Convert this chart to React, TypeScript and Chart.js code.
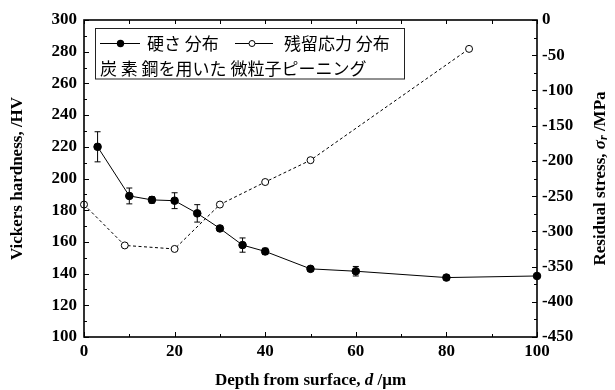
import React, { useEffect, useRef } from "react";
import { Chart, registerables } from "chart.js";
Chart.register(...registerables);

// ---- data ----
const depthHardness = [3, 10, 15, 20, 25, 30, 35, 40, 50, 60, 80, 100];
const hardness = [220, 189, 186.5, 186, 178, 168.5, 158, 154, 143, 141.5, 137.5, 138.5];
const hardnessErr = [9.5, 5, 2, 5, 5.5, 1.5, 4.5, 2, 1.5, 3, 1.5, 1];
const depthStress = [0, 9, 20, 30, 40, 50, 85];
const stress = [-262, -320, -325, -262, -230, -199, -41];

const legendHardness = "硬さ 分布";
const legendStress = "残留応力 分布";
const legendNote = "炭 素 鋼を用いた 微粒子ピーニング";

const xTitleParts = ["Depth from surface, ", "d", " /μm"];
const yTitle = "Vickers hardness, /HV";
const y2TitleParts = ["Residual stress, ", "σ", "r", " /MPa"];

const SERIF = '"Liberation Serif", "Times New Roman", serif';
const CJK = '"Noto Sans CJK JP", sans-serif';

type Part = { text: string; font: string; dy?: number };

function drawRich(ctx: CanvasRenderingContext2D, parts: Part[], cx: number, cy: number, rot: number) {
  ctx.save();
  ctx.translate(cx, cy);
  ctx.rotate(rot);
  let w = 0;
  for (const p of parts) {
    ctx.font = p.font;
    w += ctx.measureText(p.text).width;
  }
  let x = -w / 2;
  ctx.textBaseline = "middle";
  ctx.textAlign = "left";
  ctx.fillStyle = "#000";
  for (const p of parts) {
    ctx.font = p.font;
    ctx.fillText(p.text, x, p.dy || 0);
    x += ctx.measureText(p.text).width;
  }
  ctx.restore();
}

const decorPlugin = {
  id: "decor",
  beforeDatasetsDraw(chart: any) {
    const { ctx, scales } = chart;
    const x = scales.x, y = scales.y;
    ctx.save();
    ctx.strokeStyle = "#000";
    ctx.lineWidth = 1;
    depthHardness.forEach((d, i) => {
      const px = x.getPixelForValue(d);
      const top = y.getPixelForValue(hardness[i] + hardnessErr[i]);
      const bot = y.getPixelForValue(hardness[i] - hardnessErr[i]);
      ctx.beginPath();
      ctx.moveTo(px, top);
      ctx.lineTo(px, bot);
      ctx.moveTo(px - 3, top);
      ctx.lineTo(px + 3, top);
      ctx.moveTo(px - 3, bot);
      ctx.lineTo(px + 3, bot);
      ctx.stroke();
    });
    ctx.restore();
  },
  afterDraw(chart: any) {
    const { ctx, chartArea: a, scales } = chart;
    const x = scales.x, y = scales.y, y2 = scales.y2;
    ctx.save();
    ctx.strokeStyle = "#000";
    // frame
    ctx.lineWidth = 1.6;
    ctx.strokeRect(a.left, a.top, a.right - a.left, a.bottom - a.top);
    // inward ticks
    ctx.lineWidth = 1;
    ctx.beginPath();
    for (let v = 0; v <= 100; v += 10) {
      const px = Math.round(x.getPixelForValue(v)) + 0.5;
      const len = v % 20 === 0 ? 5 : 3;
      ctx.moveTo(px, a.bottom);
      ctx.lineTo(px, a.bottom - len);
      ctx.moveTo(px, a.top);
      ctx.lineTo(px, a.top + 4);
    }
    for (let v = 100; v <= 300; v += 10) {
      const py = Math.round(y.getPixelForValue(v)) + 0.5;
      const len = v % 20 === 0 ? 5 : 3;
      ctx.moveTo(a.left, py);
      ctx.lineTo(a.left + len, py);
    }
    for (let v = -450; v <= 0; v += 25) {
      const py = Math.round(y2.getPixelForValue(v)) + 0.5;
      const len = v % 50 === 0 ? 5 : 3;
      ctx.moveTo(a.right, py);
      ctx.lineTo(a.right - len, py);
    }
    ctx.stroke();

    // axis titles
    const b = "bold 17px " + SERIF;
    const bi = "italic bold 17px " + SERIF;
    drawRich(
      ctx,
      [
        { text: xTitleParts[0], font: b },
        { text: xTitleParts[1], font: bi },
        { text: xTitleParts[2], font: b },
      ],
      (a.left + a.right) / 2,
      381,
      0
    );
    drawRich(ctx, [{ text: yTitle, font: b }], 18, (a.top + a.bottom) / 2, -Math.PI / 2);
    drawRich(
      ctx,
      [
        { text: y2TitleParts[0], font: b },
        { text: y2TitleParts[1], font: bi },
        { text: y2TitleParts[2], font: "italic bold 12px " + SERIF, dy: 3 },
        { text: y2TitleParts[3], font: b },
      ],
      601,
      (a.top + a.bottom) / 2,
      -Math.PI / 2
    );

    // legend box
    ctx.lineWidth = 1;
    ctx.strokeStyle = "#222";
    ctx.strokeRect(95.5, 28.5, 309, 50.5);
    const r1 = 43.5, r2 = 68.5;
    ctx.strokeStyle = "#000";
    ctx.beginPath();
    ctx.moveTo(100, r1);
    ctx.lineTo(140, r1);
    ctx.moveTo(235, r1);
    ctx.lineTo(273, r1);
    ctx.stroke();
    ctx.fillStyle = "#000";
    ctx.beginPath();
    ctx.arc(120.5, r1, 3.7, 0, Math.PI * 2);
    ctx.fill();
    ctx.fillStyle = "#fff";
    ctx.beginPath();
    ctx.arc(252, r1, 3, 0, Math.PI * 2);
    ctx.fill();
    ctx.stroke();
    ctx.fillStyle = "#000";
    ctx.font = "17px " + CJK;
    ctx.textBaseline = "middle";
    ctx.textAlign = "left";
    ctx.fillText(legendHardness, 147, r1);
    ctx.fillText(legendStress, 284, r1);
    ctx.fillText(legendNote, 100, r2);
    ctx.restore();
  },
};

export default function App() {
  const ref = useRef<HTMLCanvasElement>(null);
  useEffect(() => {
    if (!ref.current) return;
    const tickFont = { family: SERIF, size: 17, weight: "bold" as const };
    const chart = new Chart(ref.current, {
      type: "line",
      data: {
        datasets: [
          {
            label: legendHardness,
            data: depthHardness.map((d, i) => ({ x: d, y: hardness[i] })),
            yAxisID: "y",
            borderColor: "#000",
            borderWidth: 1,
            backgroundColor: "#000",
            pointRadius: 3.8,
            pointBackgroundColor: "#000",
            pointBorderColor: "#000",
            pointBorderWidth: 1,
            clip: false as any,
            tension: 0,
          },
          {
            label: legendStress,
            data: depthStress.map((d, i) => ({ x: d, y: stress[i] })),
            yAxisID: "y2",
            borderColor: "#000",
            borderWidth: 1,
            borderDash: [3, 2.5],
            pointRadius: 3.5,
            pointBackgroundColor: "#fff",
            pointBorderColor: "#000",
            pointBorderWidth: 1,
            clip: false as any,
            tension: 0,
          },
        ],
      },
      options: {
        animation: false,
        responsive: false,
        layout: { padding: { top: 20, left: 0, right: 0, bottom: 0 } },
        plugins: { legend: { display: false }, tooltip: { enabled: false } },
        scales: {
          x: {
            type: "linear",
            min: 0,
            max: 100,
            ticks: { stepSize: 20, font: tickFont, color: "#000", padding: 4, maxRotation: 0 },
            grid: { display: false, drawTicks: false },
            border: { display: false },
            afterFit: (s: any) => {
              s.height = 53;
            },
          },
          y: {
            type: "linear",
            position: "left",
            min: 100,
            max: 300,
            ticks: { stepSize: 20, font: tickFont, color: "#000", padding: 7 },
            grid: { display: false, drawTicks: false },
            border: { display: false },
            afterFit: (s: any) => {
              s.width = 84;
            },
          },
          y2: {
            type: "linear",
            position: "right",
            min: -450,
            max: 0,
            ticks: { stepSize: 50, font: tickFont, color: "#000", padding: 5 },
            grid: { display: false, drawTicks: false },
            border: { display: false },
            afterFit: (s: any) => {
              s.width = 78;
            },
          },
        },
      },
      plugins: [decorPlugin],
    });
    return () => chart.destroy();
  }, []);
  return (
    <div style={{ position: "absolute", left: 0, top: 0, width: 615, height: 390, background: "#fff" }}>
      <canvas ref={ref} width={615} height={390} />
    </div>
  );
}
